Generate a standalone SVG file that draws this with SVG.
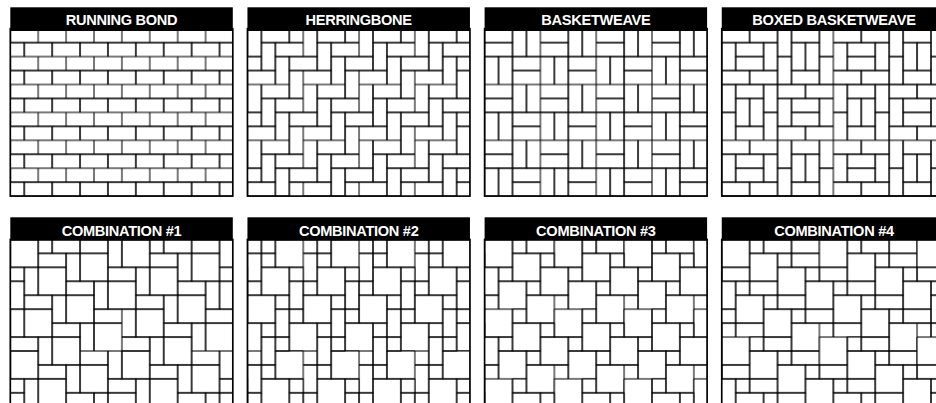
<svg xmlns="http://www.w3.org/2000/svg" width="936" height="403" viewBox="0 0 936 403">
<style>
.t{fill:none;stroke:#000;stroke-width:.075}
.bg{fill:#fff}
.fr{fill:none;stroke:#000;stroke-width:.12}
.hd{fill:#000}
.lb{font-family:"Liberation Sans",Arial,sans-serif;font-weight:bold;font-size:14.6px;letter-spacing:-0.3px;fill:#fff;text-anchor:middle}
</style>
<defs>
<g id="u1" class="t"><rect x="0" y="0" width="2" height="2"/><rect x="0" y="-1" width="2" height="1"/><rect x="-1" y="0" width="1" height="2"/></g>
<g id="u2" class="t"><rect x="0" y="0" width="2" height="2"/><rect x="-1" y="-1" width="1" height="2"/><rect x="0" y="-1" width="1" height="1"/><rect x="-1" y="-2" width="1" height="1"/></g>
<g id="u3" class="t"><rect x="0" y="0" width="2" height="2"/><rect x="-1" y="1" width="1" height="1"/></g>
<g id="u4" class="t"><rect x="0" y="0" width="2" height="2"/><rect x="0" y="2" width="2" height="1"/><rect x="-1" y="2" width="1" height="1"/></g>
<g id="boxA" class="t"><rect x="0" y="0" width="2" height="1"/><rect x="2" y="0" width="2" height="1"/><rect x="0" y="1" width="1" height="2"/><rect x="1" y="1" width="2" height="1"/><rect x="1" y="2" width="2" height="1"/><rect x="3" y="1" width="1" height="2"/><rect x="0" y="3" width="2" height="1"/><rect x="2" y="3" width="2" height="1"/></g>
<g id="boxB" class="t"><rect x="0" y="0" width="1" height="2"/><rect x="0" y="2" width="1" height="2"/><rect x="1" y="0" width="2" height="1"/><rect x="1" y="1" width="1" height="2"/><rect x="2" y="1" width="1" height="2"/><rect x="1" y="3" width="2" height="1"/><rect x="3" y="0" width="1" height="2"/><rect x="3" y="2" width="1" height="2"/></g>
<pattern id="pRB" patternUnits="userSpaceOnUse" width="2" height="2"><g class="t"><rect x="0" y="0" width="2" height="1"/><rect x="-1" y="1" width="2" height="1"/><rect x="1" y="1" width="2" height="1"/></g></pattern>
<pattern id="pHB" patternUnits="userSpaceOnUse" width="4" height="4"><g class="t"><rect x="1" y="0" width="2" height="1"/><rect x="1" y="1" width="1" height="2"/><rect x="2" y="1" width="2" height="1"/><rect x="2" y="2" width="1" height="2"/><rect x="3" y="2" width="2" height="1"/><rect x="-1" y="2" width="2" height="1"/><rect x="3" y="3" width="1" height="2"/><rect x="3" y="-1" width="1" height="2"/><rect x="0" y="3" width="2" height="1"/><rect x="0" y="0" width="1" height="2"/></g></pattern>
<pattern id="pBW" patternUnits="userSpaceOnUse" width="4" height="4"><g class="t"><rect x="0" y="0" width="2" height="1"/><rect x="0" y="1" width="2" height="1"/><rect x="2" y="0" width="1" height="2"/><rect x="3" y="0" width="1" height="2"/><rect x="0" y="2" width="1" height="2"/><rect x="1" y="2" width="1" height="2"/><rect x="2" y="2" width="2" height="1"/><rect x="2" y="3" width="2" height="1"/></g></pattern>
<pattern id="pBBW" patternUnits="userSpaceOnUse" width="8" height="8"><use href="#boxA"/><use href="#boxA" x="4" y="4"/><use href="#boxB" x="4"/><use href="#boxB" y="4"/></pattern>
<pattern id="pC1" patternUnits="userSpaceOnUse" width="8" height="8"><use href="#u1"/><use href="#u1" x="8"/><use href="#u1" y="8"/><use href="#u1" x="2" y="2"/><use href="#u1" x="4" y="4"/><use href="#u1" x="6" y="6"/><use href="#u1" x="5" y="1"/><use href="#u1" x="7" y="3"/><use href="#u1" x="-1" y="3"/><use href="#u1" x="1" y="5"/><use href="#u1" x="3" y="7"/><use href="#u1" x="3" y="-1"/></pattern>
<pattern id="pC2" patternUnits="userSpaceOnUse" width="4" height="8"><use href="#u2" x="2" y="0"/><use href="#u2" x="1" y="2"/><use href="#u2" x="0" y="4"/><use href="#u2" x="4" y="4"/><use href="#u2" x="-1" y="6"/><use href="#u2" x="3" y="6"/><use href="#u2" x="2" y="8"/></pattern>
<pattern id="pC3" patternUnits="userSpaceOnUse" width="5" height="5"><use href="#u3"/><use href="#u3" x="5"/><use href="#u3" x="2" y="1"/><use href="#u3" x="4" y="2"/><use href="#u3" x="-1" y="2"/><use href="#u3" x="1" y="3"/><use href="#u3" x="3" y="4"/><use href="#u3" x="3" y="-1"/></pattern>
<pattern id="pC4" patternUnits="userSpaceOnUse" width="7" height="7"><use href="#u4"/><use href="#u4" x="7"/><use href="#u4" x="2" y="1"/><use href="#u4" x="4" y="2"/><use href="#u4" x="6" y="3"/><use href="#u4" x="-1" y="3"/><use href="#u4" x="1" y="4"/><use href="#u4" x="3" y="5"/><use href="#u4" x="3" y="-2"/><use href="#u4" x="5" y="6"/><use href="#u4" x="5" y="-1"/></pattern>
</defs>

<g id="running-bond">
<g transform="translate(10.3 28.7) scale(13.95)"><rect class="bg" width="15.95" height="12"/><rect width="15.95" height="12" fill="url(#pRB)"/><rect class="fr" width="15.95" height="12"/></g>
<rect class="hd" x="10.3" y="7.3" width="222.5" height="23.7"/>
<text class="lb" x="121.5" y="25.2">RUNNING BOND</text>
</g>

<g id="herringbone">
<g transform="translate(247.45 28.7) scale(13.95)"><rect class="bg" width="15.95" height="12"/><rect width="15.95" height="12" fill="url(#pHB)"/><rect class="fr" width="15.95" height="12"/></g>
<rect class="hd" x="247.45" y="7.3" width="222.5" height="23.7"/>
<text class="lb" x="358.7" y="25.2">HERRINGBONE</text>
</g>

<g id="basketweave">
<g transform="translate(484.6 28.7) scale(13.95)"><rect class="bg" width="15.95" height="12"/><rect width="15.95" height="12" fill="url(#pBW)"/><rect class="fr" width="15.95" height="12"/></g>
<rect class="hd" x="484.6" y="7.3" width="222.5" height="23.7"/>
<text class="lb" x="595.9" y="25.2">BASKETWEAVE</text>
</g>

<g id="boxed-basketweave">
<g transform="translate(721.75 28.7) scale(13.95)"><rect class="bg" width="15.95" height="12"/><rect width="15.95" height="12" fill="url(#pBBW)"/><rect class="fr" width="15.95" height="12"/></g>
<rect class="hd" x="721.75" y="7.3" width="222.5" height="23.7"/>
<text class="lb" x="834" y="25.2">BOXED BASKETWEAVE</text>
</g>

<g id="combination-1">
<g transform="translate(10.3 239.4) scale(13.95)"><rect class="bg" width="15.95" height="12"/><rect width="15.95" height="12" fill="url(#pC1)"/><rect class="fr" width="15.95" height="12"/></g>
<rect class="hd" x="10.3" y="217.3" width="222.5" height="23.4"/>
<text class="lb" x="121.5" y="236.3">COMBINATION #1</text>
</g>

<g id="combination-2">
<g transform="translate(247.45 239.4) scale(13.95)"><rect class="bg" width="15.95" height="12"/><rect width="15.95" height="12" fill="url(#pC2)"/><rect class="fr" width="15.95" height="12"/></g>
<rect class="hd" x="247.45" y="217.3" width="222.5" height="23.4"/>
<text class="lb" x="358.7" y="236.3">COMBINATION #2</text>
</g>

<g id="combination-3">
<g transform="translate(484.6 239.4) scale(13.95)"><rect class="bg" width="15.95" height="12"/><rect width="15.95" height="12" fill="url(#pC3)"/><rect class="fr" width="15.95" height="12"/></g>
<rect class="hd" x="484.6" y="217.3" width="222.5" height="23.4"/>
<text class="lb" x="595.9" y="236.3">COMBINATION #3</text>
</g>

<g id="combination-4">
<g transform="translate(721.75 239.4) scale(13.95)"><rect class="bg" width="15.95" height="12"/><rect width="15.95" height="12" fill="url(#pC4)"/><rect class="fr" width="15.95" height="12"/></g>
<rect class="hd" x="721.75" y="217.3" width="222.5" height="23.4"/>
<text class="lb" x="834" y="236.3">COMBINATION #4</text>
</g>

<g id="connectors"/>
</svg>
